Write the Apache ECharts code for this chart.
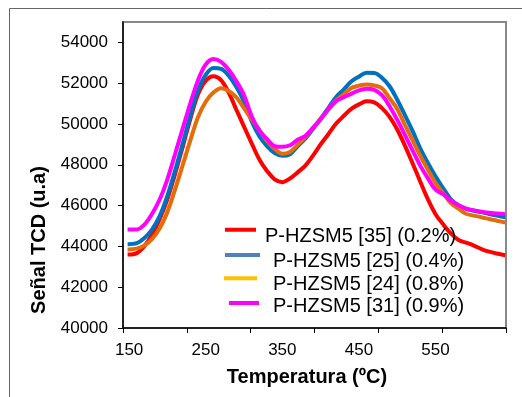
<!DOCTYPE html>
<html>
<head>
<meta charset="utf-8">
<script src="https://cdn.jsdelivr.net/npm/echarts@6/dist/echarts.min.js"></script>
<style>
html,body{margin:0;padding:0;background:#fff;}
#chart{width:522px;height:397px;}
</style>
</head>
<body>
<div id="chart"></div>
<script>
// Temperature (ºC) sample points
var temperatures = [148,160,170,180,190,200,210,220,230,240,250,260,270,280,290,300,310,320,330,340,350,360,370,380,390,400,410,420,430,440,450,460,470,480,490,500,510,520,530,540,550,560,570,580,590,600,610,620,630,641];

var seriesNames = ['P-HZSM5 [35] (0.2%)', 'P-HZSM5 [25] (0.4%)', 'P-HZSM5 [24] (0.8%)', 'P-HZSM5 [31] (0.9%)'];

var red35 = [43600,43670,44020,44580,45340,46320,47550,48880,50260,51460,52120,52340,52150,51540,50700,49870,49050,48260,47700,47290,47150,47330,47630,47960,48450,49000,49500,50010,50390,50740,50960,51110,51060,50780,50350,49730,48940,48080,47180,46310,45580,45080,44640,44310,44180,44040,43870,43740,43650,43570];
var blue25 = [44110,44160,44410,44840,45500,46490,47720,49050,50420,51650,52410,52740,52700,52370,51810,51090,50130,49400,48910,48570,48440,48520,48910,49280,49760,50260,50780,51310,51690,52080,52320,52510,52500,52270,51850,51190,50440,49660,48810,48090,47440,46850,46310,46020,45840,45750,45680,45590,45510,45430];
var orange24 = [43850,43890,44050,44370,44890,45690,46790,47990,49210,50340,51090,51540,51750,51620,51310,50770,50230,49710,49180,48790,48540,48630,48980,49350,49800,50250,50700,51150,51450,51760,51880,51940,51890,51750,51260,50740,49960,49210,48450,47760,47100,46610,46120,45850,45600,45510,45430,45340,45260,45170];
var magenta31 = [44830,44830,45070,45600,46310,47300,48530,49790,51030,52150,52920,53190,53050,52660,52100,51410,50380,49670,49260,48910,48880,48960,49230,49420,49810,50230,50720,51110,51310,51480,51650,51730,51670,51410,50870,50200,49470,48710,47960,47340,46780,46560,46240,46020,45850,45770,45700,45650,45610,45580];

var xLabelValues = [150, 250, 350, 450, 550];
var xTickValues = [142, 225.33, 308.67, 392, 475.33, 558.67, 642];
var yTickValues = [40000, 42000, 44000, 46000, 48000, 50000, 52000, 54000];

var lineColors = ['#FF0000', '#0070C0', '#E46C0A', '#FF00FF'];
var legendColors = ['#FF0000', '#4F81BD', '#FFC000', '#FF00FF'];
var seriesValues = [red35, blue25, orange24, magenta31];

function pairs(vals) {
  return temperatures.map(function (t, i) { return [t, vals[i]]; });
}

var FONT = "'Liberation Sans', Arial, sans-serif";

var series = seriesNames.map(function (name, i) {
  return {
    name: name,
    type: 'line',
    data: pairs(seriesValues[i]),
    smooth: 0.35,
    showSymbol: false,
    symbol: 'none',
    lineStyle: { color: lineColors[i], width: 4 },
    itemStyle: { color: lineColors[i] },
    z: 2 + i
  };
});

// legend geometry: [left, top, iconWidth, iconBoxHeight, textPadLeft]
var legendGeom = [
  [225, 226.5, 31, 17.6, 4],
  [225, 251, 35, 16, 8],
  [224, 274, 33, 15.4, 11],
  [229, 296.5, 30, 11, 9]
];

var legends = seriesNames.map(function (name, i) {
  var g = legendGeom[i];
  var w = g[2], h = g[3];
  // bar of 4px at the top of the icon box, text centred lower in the box
  var iconPath = 'path://M0,0L' + w + ',0L' + w + ',4L0,4Z M0,' + h + 'L0.001,' + h;
  return {
    left: g[0],
    top: g[1],
    padding: 0,
    selectedMode: false,
    icon: iconPath,
    itemWidth: w,
    itemHeight: h,
    data: [{ name: name, itemStyle: { color: legendColors[i] } }],
    textStyle: {
      fontFamily: FONT, fontSize: 20, lineHeight: 20, color: '#000',
      padding: [0, 0, 0, g[4]]
    }
  };
});

var chart = echarts.init(document.getElementById('chart'), null, { renderer: 'canvas' });
chart.setOption({
  animation: false,
  backgroundColor: '#fff',
  graphic: [{
    type: 'rect',
    shape: { x: 9.5, y: 8.5, width: 600, height: 500 },
    style: { fill: 'none', stroke: '#666', lineWidth: 1 },
    silent: true
  }],
  grid: {
    left: 123, right: 16, top: 22, bottom: 69,
    show: true, borderColor: '#888', borderWidth: 2,
    backgroundColor: 'transparent',
    outerBoundsMode: 'none'
  },
  legend: legends,
  xAxis: {
    type: 'value',
    min: 142, max: 642,
    name: 'Temperatura (ºC)',
    nameLocation: 'middle',
    nameGap: 39,
    nameTextStyle: { fontFamily: FONT, fontSize: 20, fontWeight: 'bold', color: '#000', padding: [0, 15, 0, 0] },
    axisLine: { lineStyle: { color: '#000', width: 1.5 } },
    axisTick: { show: true, inside: false, length: 5, customValues: xTickValues, lineStyle: { color: '#000' } },
    axisLabel: { customValues: xLabelValues, margin: 14, fontFamily: FONT, fontSize: 17, color: '#000',
      formatter: function (v) { return String(v); } },
    splitLine: { show: false }
  },
  yAxis: {
    type: 'value',
    min: 40000, max: 55000, interval: 2000,
    name: 'Señal TCD (u.a)',
    nameLocation: 'middle',
    nameGap: 64,
    nameTextStyle: { fontFamily: FONT, fontSize: 20, fontWeight: 'bold', color: '#000', padding: [0, 130, 0, 0] },
    axisLine: { show: true, lineStyle: { color: '#000', width: 1.5 } },
    axisTick: { show: true, inside: false, length: 5, customValues: yTickValues, lineStyle: { color: '#000' } },
    axisLabel: { customValues: yTickValues, margin: 15, fontFamily: FONT, fontSize: 17, color: '#000',
      formatter: function (v) { return String(v); } },
    splitLine: { show: false }
  },
  series: series
});
</script>
</body>
</html>
